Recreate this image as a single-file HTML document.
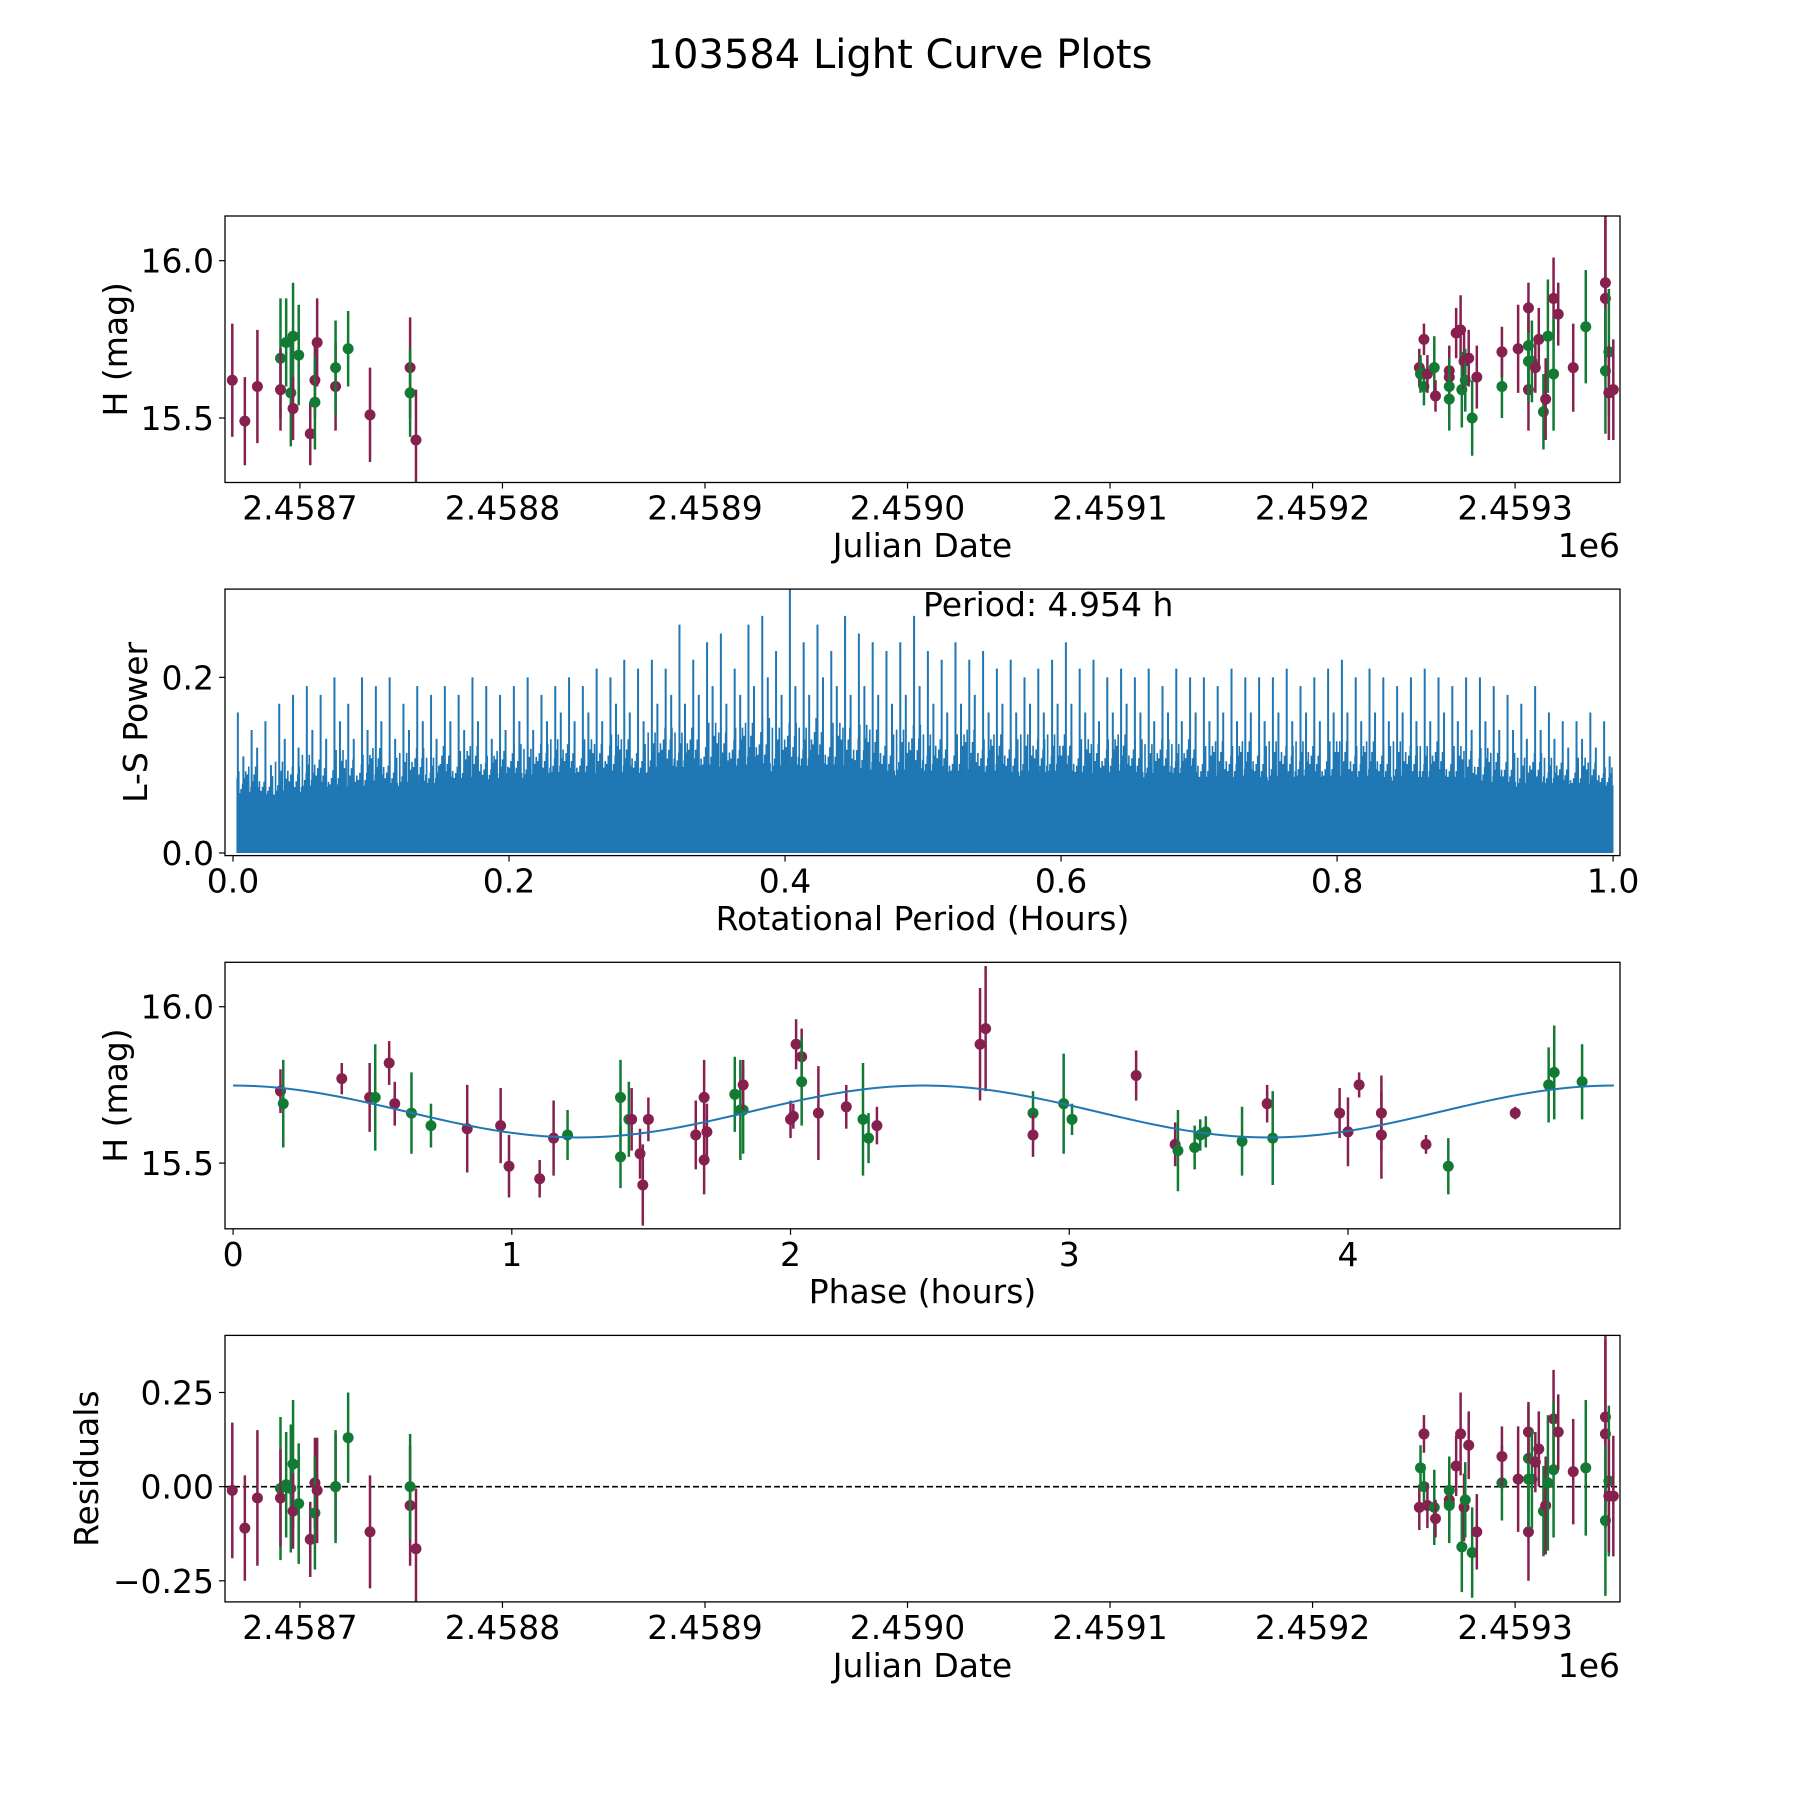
<!DOCTYPE html>
<html><head><meta charset="utf-8"><style>
html,body{margin:0;padding:0;background:#fff}
svg{display:block;font-family:"DejaVu Sans","Liberation Sans",sans-serif}
</style></head><body>
<svg id="fig" width="1800" height="1800" viewBox="0 0 1800 1800" xmlns="http://www.w3.org/2000/svg">
<rect width="1800" height="1800" fill="#fff"/>
<text x="900" y="68" font-size="40" text-anchor="middle">103584 Light Curve Plots</text>
<g id="p1"></g>
<g id="p2"></g>
<g id="p3"></g>
<g id="p4"></g>
</svg>
<script>
// ---- data ----
const p1Days = [-33.4,-27.2,-21.0,-9.6,-9.6,-6.8,-4.5,-3.4,-3.4,-0.6,5.1,7.4,7.4,8.5,17.6,17.6,23.8,34.6,54.4,54.4,57.3,
 552.7,553.3,555.0,555.0,556.7,560.1,560.7,567.5,567.5,567.5,567.5,570.9,573.1,573.7,574.8,575.4,577.1,578.8,581.1,
 593.5,593.5,601.5,606.6,606.6,606.6,606.6,608.3,610.0,611.7,614.0,615.1,616.2,619.0,619.0,621.3,628.7,634.9,644.6,644.6,644.6,646.3,646.3,648.5];
const p1Colors = ['P','P','P','G','P','G','G','G','P','G','P','P','G','P','P','G','G','P','P','G','P',
 'P','G','P','G','P','G','P','P','P','G','G','P','P','G','P','G','P','G','P',
 'G','P','P','P','G','G','P','G','P','P','G','P','G','P','G','P','P','G','P','P','G','G','P','P'];
const p1Mag = [15.62,15.49,15.60,15.69,15.59,15.74,15.58,15.76,15.53,15.70,15.45,15.62,15.55,15.74,15.60,15.66,15.72,15.51,15.66,15.58,15.43,
 15.66,15.64,15.75,15.60,15.64,15.66,15.57,15.65,15.63,15.60,15.56,15.77,15.78,15.59,15.68,15.62,15.69,15.50,15.63,
 15.60,15.71,15.72,15.59,15.73,15.68,15.85,15.68,15.66,15.75,15.52,15.56,15.76,15.88,15.64,15.83,15.66,15.79,15.93,15.88,15.65,15.71,15.58,15.59];
const p1Err = [0.18,0.14,0.18,0.19,0.13,0.14,0.17,0.17,0.10,0.16,0.10,0.12,0.15,0.14,0.14,0.15,0.12,0.15,0.16,0.14,0.16,
 0.06,0.06,0.05,0.06,0.06,0.10,0.05,0.08,0.08,0.09,0.10,0.08,0.11,0.12,0.09,0.10,0.09,0.12,0.10,
 0.10,0.08,0.14,0.13,0.14,0.13,0.08,0.13,0.08,0.10,0.12,0.13,0.18,0.13,0.18,0.10,0.14,0.18,0.25,0.25,0.20,0.20,0.15,0.16];
const resid = [-0.01,-0.11,-0.03,-0.005,-0.03,0.005,-0.005,0.06,-0.065,-0.045,-0.14,0.01,-0.07,-0.01,0,0,0.13,-0.12,-0.05,0,-0.165,
 -0.055,0.05,0.14,0,-0.05,-0.055,-0.085,-0.045,-0.035,-0.01,-0.05,0.055,0.14,-0.16,-0.055,-0.035,0.11,-0.175,-0.12,
 0.01,0.08,0.02,-0.12,0.075,0.02,0.145,0.02,0.065,0.10,-0.065,-0.05,0.01,0.18,0.045,0.145,0.04,0.05,0.185,0.14,-0.09,0.015,-0.025,-0.025];
const phase = [0.17,0.18,0.39,0.49,0.51,0.56,0.58,0.64,0.71,0.84,0.96,0.99,1.10,1.15,1.20,1.39,1.39,1.42,1.43,1.46,1.47,1.49,1.66,1.69,1.69,1.70,1.80,1.82,1.83,1.83,2.00,2.01,2.02,2.04,2.04,2.10,2.20,2.26,2.28,2.31,2.68,2.70,2.87,2.87,2.98,3.01,3.24,3.38,3.39,3.45,3.47,3.49,3.62,3.71,3.73,3.97,4.00,4.04,4.12,4.12,4.28,4.36,4.60,4.72,4.74,4.84];
const phaseMag = [15.73,15.69,15.77,15.71,15.71,15.82,15.69,15.66,15.62,15.61,15.62,15.49,15.45,15.58,15.59,15.52,15.71,15.64,15.64,15.53,15.43,15.64,15.59,15.71,15.51,15.60,15.72,15.67,15.67,15.75,15.64,15.65,15.88,15.84,15.76,15.66,15.68,15.64,15.58,15.62,15.88,15.93,15.66,15.59,15.69,15.64,15.78,15.56,15.54,15.55,15.59,15.60,15.57,15.69,15.58,15.66,15.60,15.75,15.66,15.59,15.56,15.49,15.66,15.75,15.79,15.76];
const phaseErr = [0.07,0.14,0.05,0.11,0.17,0.07,0.07,0.13,0.07,0.14,0.12,0.10,0.06,0.12,0.08,0.10,0.12,0.12,0.10,0.08,0.13,0.07,0.11,0.12,0.11,0.09,0.12,0.16,0.14,0.08,0.06,0.04,0.08,0.09,0.14,0.15,0.07,0.18,0.08,0.06,0.18,0.20,0.07,0.07,0.16,0.05,0.08,0.07,0.13,0.07,0.05,0.05,0.11,0.06,0.15,0.08,0.11,0.04,0.12,0.14,0.03,0.09,0.02,0.12,0.15,0.12];
const phaseColors = ['P','G','P','P','G','P','P','G','G','P','P','P','P','P','G','G','G','G','P','P','P','P','P','P','P','P','G','G','G','P','P','P','P','P','G','P','P','G','G','P','P','P','G','P','G','G','P','P','G','G','G','G','G','P','G','P','P','P','P','P','P','G','P','G','G','G'];
const fitMean = 15.665, fitAmp = 0.083, fitPeriod = 4.954;
const lsPeaks = [.16,.14,.15,.17,.18,.19,.18,.20,.17,.20,.19,.20,.17,.19,.18,.19,.18,.20,.19,.18,
 .19,.20,.18,.19,.20,.19,.21,.20,.22,.21,.22,.21,.26,.22,.24,.25,.21,.26,.27,.23,
 .30,.24,.26,.23,.27,.25,.24,.23,.24,.27,.23,.22,.24,.22,.23,.21,.22,.20,.21,.22,
 .24,.21,.22,.20,.21,.20,.21,.19,.21,.20,.20,.19,.21,.20,.20,.20,.21,.19,.20,.21,
 .22,.20,.21,.20,.19,.20,.21,.20,.19,.20,.20,.19,.18,.17,.19,.16,.15,.15,.16,.15];
const lsSecond = [.11,.12,.10,.13,.12,.14,.13,.15,.13,.14,.15,.13,.14,.15,.13,.15,.14,.15,.13,.14,
 .15,.14,.15,.16,.15,.16,.15,.17,.16,.15,.17,.18,.17,.18,.19,.17,.18,.19,.20,.18,
 .19,.18,.20,.19,.18,.19,.18,.17,.18,.19,.17,.16,.17,.18,.16,.17,.16,.17,.16,.17,
 .17,.16,.15,.16,.17,.16,.15,.16,.15,.16,.15,.16,.15,.16,.15,.16,.15,.16,.15,.16,
 .16,.15,.16,.15,.16,.15,.15,.16,.15,.14,.15,.14,.14,.13,.14,.13,.12,.13,.12,.11];
const lsBase = [.05,.055,.06,.065,.07,.07,.075,.075,.075,.07,.07,.07,.07,.07,.065,.065,.065,.065,.06,.06];
const periodText = "Period: 4.954 h";
const jdTicks = [2458700,2458800,2458900,2459000,2459100,2459200,2459300];
const jdTickLabels = ["2.4587","2.4588","2.4589","2.4590","2.4591","2.4592","2.4593"];

// ---- helpers ----
const NS="http://www.w3.org/2000/svg";
const L=225,R=1620,H=266.5;
const TOPS=[216,589.1,962.3,1335.4];
const PURPLE="#86204f", GREEN="#137a34", BLUE="#1f77b4";
function el(parent,tag,attrs,txt){const e=document.createElementNS(NS,tag);for(const k in attrs)e.setAttribute(k,attrs[k]);if(txt!==undefined)e.textContent=txt;parent.appendChild(e);return e;}
function lin(d0,d1,r0,r1){return v=>r0+(v-d0)/(d1-d0)*(r1-r0);}
function frame(g,top){const f=el(g,'rect',{x:L,y:top,width:R-L,height:H,fill:'none',stroke:'#000','stroke-width':1.3});
}
function xTicks(g,top,vals,labels,sx,name){vals.forEach((v,i)=>{const x=sx(v);
 el(g,'line',{x1:x,x2:x,y1:top+H,y2:top+H+6,stroke:'#000','stroke-width':1.2});
 const t=el(g,'text',{x:x,y:top+H+37,'font-size':33,'text-anchor':'middle'},labels[i]);
 });}
function yTicks(g,vals,labels,sy,name){vals.forEach((v,i)=>{const y=sy(v);
 el(g,'line',{x1:L-6,x2:L,y1:y,y2:y,stroke:'#000','stroke-width':1.2});
 const t=el(g,'text',{x:L-11,y:y+12,'font-size':33,'text-anchor':'end'},labels[i]);
 });}
function xLabel(g,y,txt,name){const t=el(g,'text',{x:(L+R)/2,y:y,'font-size':33,'text-anchor':'middle'},txt);
 }
function yLabel(g,x,top,txt,name){const cy=top+H/2;const t=el(g,'text',{x:x,y:cy,'font-size':33,'text-anchor':'middle',transform:`rotate(-90 ${x} ${cy})`},txt);
 }
function clip(id,top){const c=el(document.getElementById('fig'),'clipPath',{id:id});el(c,'rect',{x:L,y:top,width:R-L,height:H});}
function errPt(g,x,y,e0,e1,col,name){
 const ln=el(g,'line',{x1:x,x2:x,y1:e0,y2:e1,stroke:col,'stroke-width':2.5});
 
 const c=el(g,'circle',{cx:x,cy:y,r:5.5,fill:col});
 }

// ---- panel 1 ----
(function(){const g=document.getElementById('p1');const top=TOPS[0];clip('c1',top);
 const sx=lin(2458663,2459351.8,L,R), sy=lin(15.295,16.142,top+H,top);
 const d=el(g,'g',{'clip-path':'url(#c1)'});
 p1Days.forEach((dd,i)=>{const x=sx(2458700+dd);errPt(d,x,sy(p1Mag[i]),sy(p1Mag[i]-p1Err[i]),sy(p1Mag[i]+p1Err[i]),p1Colors[i]==='P'?PURPLE:GREEN,'magnitude-point');});
 frame(g,top);xTicks(g,top,jdTicks,jdTickLabels,sx,'x-tick-label');
 yTicks(g,[15.5,16.0],["15.5","16.0"],sy,'y-tick-label');
 xLabel(g,557,"Julian Date",'x-axis-title');yLabel(g,127,top,"H (mag)",'y-axis-title');
 const o=el(g,'text',{x:R,y:557,'font-size':33,'text-anchor':'end'},"1e6");})();

// ---- panel 2 ----
(function(){const g=document.getElementById('p2');const top=TOPS[1];clip('c2',top);
 const sx=lin(-0.0058,1.005,L,R), sy=lin(-0.003,0.3005,top+H,top);
 const d=el(g,'g',{'clip-path':'url(#c2)'});
 const n=lsPeaks.length;
 let pts=`M${sx(0.003)},${sy(0)}`;
 lsBase.forEach((b,i)=>{const x0=sx(i/lsBase.length),x1=sx((i+1)/lsBase.length);pts+=` L${Math.max(x0,sx(0.003))},${sy(b)} L${x1},${sy(b)}`;});
 pts+=` L${sx(1)},${sy(0)} Z`;
 const bf=el(d,'path',{d:pts,fill:BLUE});
 let dense='';
 for(let i=0;i<n;i++){const b=lsBase[Math.floor(i/5)];const top2=lsSecond[i];
  for(let k=0;k<18;k++){const f=(i+(k+0.5)/18)/n;if(f<0.003)continue;const frac=((i*7+k*5)%9)/8;const h=b+(top2-b)*0.55*frac*frac+0.01;
   dense+=`M${sx(f)},${sy(0)}V${sy(h)}`;}
 }
 const dp=el(d,'path',{d:dense,stroke:BLUE,'stroke-width':1.6,fill:'none'});
 for(let i=0;i<n;i++){
  const fp=(i+0.35)/n, fs=(i+0.75)/n;
  const s1=el(d,'line',{x1:sx(fp),x2:sx(fp),y1:sy(0),y2:sy(lsPeaks[i]),stroke:BLUE,'stroke-width':2});
  
  const s2=el(d,'line',{x1:sx(fs),x2:sx(fs),y1:sy(0),y2:sy(lsSecond[i]),stroke:BLUE,'stroke-width':2});
  }
 frame(g,top);
 xTicks(g,top,[0,0.2,0.4,0.6,0.8,1.0],["0.0","0.2","0.4","0.6","0.8","1.0"],sx,'x-tick-label');
 yTicks(g,[0,0.2],["0.0","0.2"],sy,'y-tick-label');
 xLabel(g,930,"Rotational Period (Hours)",'x-axis-title');yLabel(g,147,top,"L-S Power",'y-axis-title');
 const t=el(g,'text',{x:sx(0.5),y:sy(0.27),'font-size':33},periodText);})();

// ---- panel 3 ----
(function(){const g=document.getElementById('p3');const top=TOPS[2];clip('c3',top);
 const sx=lin(-0.029,4.976,L,R), sy=lin(15.29,16.142,top+H,top);
 const d=el(g,'g',{'clip-path':'url(#c3)'});
 phase.forEach((p,i)=>{errPt(d,sx(p),sy(phaseMag[i]),sy(phaseMag[i]-phaseErr[i]),sy(phaseMag[i]+phaseErr[i]),phaseColors[i]==='P'?PURPLE:GREEN,'phased-point');});
 let pth='';for(let k=0;k<=200;k++){const p=fitPeriod*k/200;const m=fitMean+fitAmp*Math.cos(4*Math.PI*p/fitPeriod);pth+=(k?' L':'M')+sx(p)+','+sy(m);}
 const c=el(d,'path',{d:pth,fill:'none',stroke:BLUE,'stroke-width':2});
 frame(g,top);
 xTicks(g,top,[0,1,2,3,4],["0","1","2","3","4"],sx,'x-tick-label');
 yTicks(g,[15.5,16.0],["15.5","16.0"],sy,'y-tick-label');
 xLabel(g,1303,"Phase (hours)",'x-axis-title');yLabel(g,127,top,"H (mag)",'y-axis-title');})();

// ---- panel 4 ----
(function(){const g=document.getElementById('p4');const top=TOPS[3];clip('c4',top);
 const sx=lin(2458663,2459351.8,L,R), sy=lin(-0.306,0.4016,top+H,top);
 const d=el(g,'g',{'clip-path':'url(#c4)'});
 const z=el(d,'line',{x1:L,x2:R,y1:sy(0),y2:sy(0),stroke:'#000','stroke-width':1.6,'stroke-dasharray':'6,3'});
 
 p1Days.forEach((dd,i)=>{const r=resid[i];if(r===undefined)return;const x=sx(2458700+dd);errPt(d,x,sy(r),sy(r-p1Err[i]),sy(r+p1Err[i]),p1Colors[i]==='P'?PURPLE:GREEN,'residual-point');});
 frame(g,top);xTicks(g,top,jdTicks,jdTickLabels,sx,'x-tick-label');
 yTicks(g,[-0.25,0,0.25],["\u22120.25","0.00","0.25"],sy,'y-tick-label');
 xLabel(g,1677,"Julian Date",'x-axis-title');yLabel(g,98,top,"Residuals",'y-axis-title');
 const o=el(g,'text',{x:R,y:1677,'font-size':33,'text-anchor':'end'},"1e6");})();
</script>
</body></html>
